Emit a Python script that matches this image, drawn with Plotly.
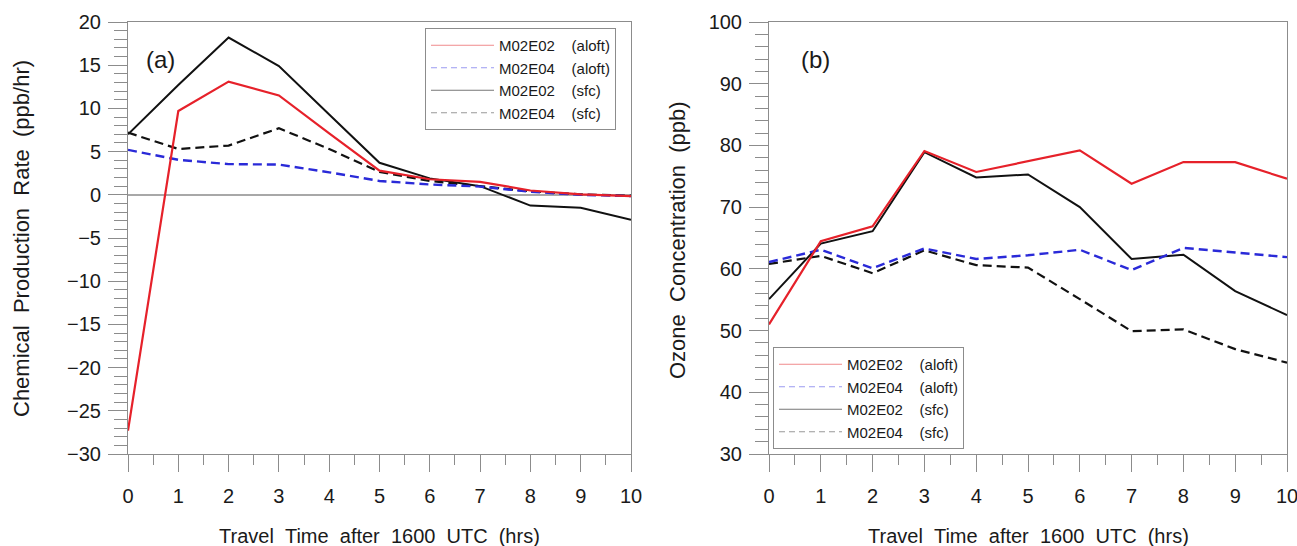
import plotly.graph_objects as go

hours = list(range(11))

# Panel (a): Chemical production rate (ppb/hr)
a_m02e02_aloft = [-27.3, 9.7, 13.1, 11.5, 7.1, 2.8, 1.8, 1.5, 0.5, 0.05, -0.15]
a_m02e04_aloft = [5.2, 4.05, 3.55, 3.5, 2.6, 1.6, 1.2, 0.95, 0.35, 0.0, -0.15]
a_m02e02_sfc = [7.0, 12.7, 18.2, 14.9, 9.3, 3.7, 1.9, 1.0, -1.25, -1.5, -2.9]
a_m02e04_sfc = [7.2, 5.3, 5.7, 7.7, 5.3, 2.65, 1.6, 1.0, 0.4, 0.05, -0.1]

# Panel (b): Ozone concentration (ppb)
b_m02e02_aloft = [51.0, 64.5, 66.9, 79.1, 75.7, 77.4, 79.2, 73.8, 77.3, 77.3, 74.6]
b_m02e04_aloft = [61.1, 63.1, 60.1, 63.3, 61.6, 62.2, 63.1, 59.8, 63.4, 62.7, 61.9]
b_m02e02_sfc = [55.1, 64.1, 66.1, 78.9, 74.8, 75.3, 70.0, 61.6, 62.3, 56.4, 52.5]
b_m02e04_sfc = [60.8, 62.1, 59.3, 63.0, 60.6, 60.2, 55.1, 49.9, 50.2, 47.0, 44.8]

SP2 = "\u00a0\u00a0"
SP4 = "\u00a0\u00a0\u00a0\u00a0"
series_names = ["M02E02" + SP4 + "(aloft)", "M02E04" + SP4 + "(aloft)",
                "M02E02" + SP4 + "(sfc)", "M02E04" + SP4 + "(sfc)"]

FONT = "Liberation Sans, Arial, Helvetica, sans-serif"
W, H = 1297, 546

styles = [
    dict(color="#e6212a", width=2.2, dash="solid"),
    dict(color="#2a2ad8", width=2.4, dash="9px,5px"),
    dict(color="#111111", width=2.0, dash="solid"),
    dict(color="#111111", width=2.2, dash="9px,5px"),
]
legend_styles = [
    dict(color="#f08a8c", width=1, dash="solid"),
    dict(color="#9a9af0", width=1, dash="6px,4px"),
    dict(color="#777777", width=1, dash="solid"),
    dict(color="#999999", width=1, dash="6px,4px"),
]

fig = go.Figure()

panel_a = [a_m02e02_aloft, a_m02e04_aloft, a_m02e02_sfc, a_m02e04_sfc]
panel_b = [b_m02e02_aloft, b_m02e04_aloft, b_m02e02_sfc, b_m02e04_sfc]

order = [3, 2, 1, 0]
for i in order:
    fig.add_trace(go.Scatter(x=hours, y=panel_a[i], mode="lines", line=styles[i],
                             showlegend=False, xaxis="x", yaxis="y"))
    fig.add_trace(go.Scatter(x=hours, y=panel_b[i], mode="lines", line=styles[i],
                             showlegend=False, xaxis="x2", yaxis="y2"))

for i in range(4):
    fig.add_trace(go.Scatter(x=[None], y=[None], mode="lines", line=legend_styles[i],
                             name=series_names[i], legend="legend", xaxis="x", yaxis="y"))
    fig.add_trace(go.Scatter(x=[None], y=[None], mode="lines", line=legend_styles[i],
                             name=series_names[i], legend="legend2", xaxis="x2", yaxis="y2"))

axis_common = dict(
    automargin=False,
    showgrid=False, showline=True, mirror=True, linecolor="#8c8c8c", linewidth=1,
    ticks="outside", tickcolor="#8c8c8c", tickwidth=1,
    tickfont=dict(family=FONT, size=20, color="#1a1a1a"),
)

def px_x(p):
    return p / W

def px_y(p):
    return 1 - p / H

xa = dict(axis_common, range=[0, 10], tick0=0, dtick=1, ticklen=17, ticklabelstandoff=7,
          zeroline=False, ticklabeloverflow="allow",
          minor=dict(dtick=0.5, ticklen=10, ticks="outside", tickcolor="#8c8c8c", showgrid=False))

legend_common = dict(xanchor="left", yanchor="top",
                     bgcolor="white", bordercolor="#8c8c8c", borderwidth=1,
                     font=dict(family=FONT, size=15, color="#1a1a1a"),
                     itemwidth=63, tracegroupgap=0)

fig.update_layout(
    template="none",
    width=W, height=H,
    margin=dict(l=0, r=0, t=0, b=0, pad=0, autoexpand=False),
    paper_bgcolor="white", plot_bgcolor="white",
    font=dict(family=FONT, color="#1a1a1a"),
    xaxis=dict(xa, domain=[px_x(128), px_x(631)], anchor="y"),
    xaxis2=dict(xa, domain=[px_x(769), px_x(1287)], anchor="y2"),
    yaxis=dict(axis_common, domain=[px_y(454), px_y(22)], anchor="x", range=[-30, 20],
               tick0=-30, dtick=5, ticklen=19, ticklabelstandoff=3,
               zeroline=True, zerolinecolor="#a8a8a8", zerolinewidth=1.5,
               minor=dict(dtick=1, ticklen=13, ticks="outside", tickcolor="#8c8c8c", showgrid=False)),
    yaxis2=dict(axis_common, domain=[px_y(454), px_y(22)], anchor="x2", range=[30, 100],
                tick0=30, dtick=10, ticklen=19, ticklabelstandoff=3, zeroline=False,
                minor=dict(dtick=2, ticklen=13, ticks="outside", tickcolor="#8c8c8c", showgrid=False)),
    legend=dict(legend_common, x=px_x(425), y=px_y(28)),
    legend2=dict(legend_common, x=px_x(773), y=px_y(347)),
)

xtitle = "Travel" + SP2 + "Time" + SP2 + "after" + SP2 + "1600" + SP2 + "UTC" + SP2 + "(hrs)"
annots = [
    dict(text="(a)", x=px_x(160), y=px_y(59), size=24, angle=0),
    dict(text="(b)", x=px_x(815), y=px_y(59), size=24, angle=0),
    dict(text=xtitle, x=px_x(379.5), y=px_y(536), size=20, angle=0),
    dict(text=xtitle, x=px_x(1028), y=px_y(536), size=20, angle=0),
    dict(text="Chemical" + SP2 + "Production" + SP2 + "Rate" + SP2 + "(ppb/hr)",
         x=px_x(21), y=px_y(239), size=22, angle=-90),
    dict(text="Ozone" + SP2 + "Concentration" + SP2 + "(ppb)",
         x=px_x(677), y=px_y(240), size=22, angle=-90),
]
for a in annots:
    fig.add_annotation(xref="paper", yref="paper", showarrow=False,
                       xanchor="center", yanchor="middle", text=a["text"],
                       x=a["x"], y=a["y"], textangle=a["angle"],
                       font=dict(family=FONT, color="#1a1a1a", size=a["size"]))

fig.write_html("out.html",
               post_script="document.body.style.margin='0';document.body.style.overflow='hidden';")
